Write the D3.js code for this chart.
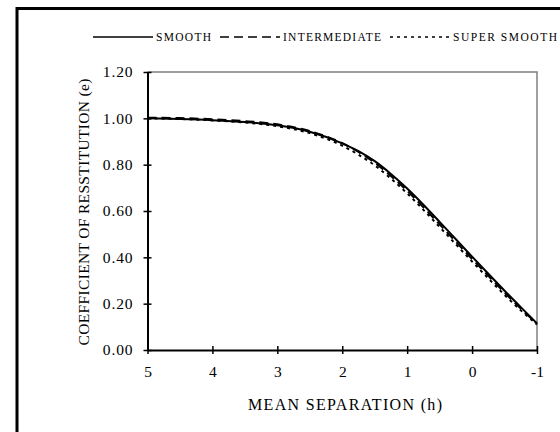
<!DOCTYPE html>
<html><head><meta charset="utf-8">
<script src="https://cdn.jsdelivr.net/npm/d3@7"></script>
<style>
html,body{margin:0;padding:0;background:#fff;}
svg{display:block;}
text{font-family:"Liberation Serif","Times New Roman",serif;fill:#000;}
</style></head>
<body><svg id="c" width="560" height="432"></svg>
<script>
const separation = [5, 4.5, 4, 3.5, 3, 2.5, 2, 1.75, 1.5, 1.25, 1, 0.75, 0.5, 0.25, 0, -0.25, -0.5, -0.75, -1];
const smooth       = [1.000, 0.997, 0.992, 0.984, 0.970, 0.942, 0.892, 0.858, 0.815, 0.760, 0.697, 0.627, 0.553, 0.478, 0.403, 0.329, 0.256, 0.185, 0.115];
const intermediate = [1.003, 1.001, 0.996, 0.988, 0.974, 0.945, 0.893, 0.855, 0.808, 0.751, 0.687, 0.616, 0.542, 0.467, 0.393, 0.320, 0.248, 0.179, 0.113];
const superSmooth  = [1.000, 0.997, 0.991, 0.982, 0.966, 0.936, 0.882, 0.843, 0.797, 0.740, 0.676, 0.605, 0.531, 0.456, 0.382, 0.309, 0.238, 0.171, 0.110];
const seriesNames = ["SMOOTH", "INTERMEDIATE", "SUPER SMOOTH"];
const xTicks = [5, 4, 3, 2, 1, 0, -1];
const yTicks = [0, 0.2, 0.4, 0.6, 0.8, 1.0, 1.2];
const xTitle = "MEAN SEPARATION (h)";
const yTitle = "COEFFICIENT OF RESSTITUTION (e)";

const svg = d3.select("#c");
// outer frame
svg.append("rect").attr("x", 17).attr("y", 8.5).attr("width", 600).attr("height", 500)
  .attr("fill", "none").attr("stroke", "#000").attr("stroke-width", 3);

const L = 147.5, R = 537, T = 72, B = 350;
const x = d3.scaleLinear().domain([5, -1]).range([L, R]);
const y = d3.scaleLinear().domain([0, 1.2]).range([B, T]);

// plot area border (gray top & right)
svg.append("path").attr("d", `M${L},${T}H${R}V${B}`).attr("fill", "none")
  .attr("stroke", "#808080").attr("stroke-width", 1.5);

// y axis
const yAxis = svg.append("g").attr("transform", `translate(${L},0)`)
  .call(d3.axisLeft(y).tickValues(yTicks).tickFormat(d3.format(".2f")).tickSize(0).tickPadding(14));
yAxis.select(".domain").attr("stroke", "#000").attr("stroke-width", 2);
yAxis.selectAll(".tick line").attr("x1", -4).attr("x2", 4).attr("stroke", "#000").attr("stroke-width", 1.5);
yAxis.selectAll(".tick text").attr("font-size", 15.5).attr("letter-spacing", 0.9);

// x axis
const xAxis = svg.append("g").attr("transform", `translate(0,${B})`)
  .call(d3.axisBottom(x).tickValues(xTicks).tickFormat(d => String(d)).tickSize(0).tickPadding(16));
xAxis.select(".domain").attr("stroke", "#000").attr("stroke-width", 2);
xAxis.selectAll(".tick line").attr("y1", -4).attr("y2", 4).attr("stroke", "#000").attr("stroke-width", 1.5);
xAxis.selectAll(".tick text").attr("font-size", 15.5);

// titles
svg.append("text").attr("x", 345).attr("y", 410).attr("text-anchor", "middle")
  .attr("font-size", 16).attr("textLength", 194).attr("lengthAdjust", "spacing").text(xTitle);
svg.append("text").attr("transform", "translate(89,212) rotate(-90)").attr("text-anchor", "middle")
  .attr("font-size", 15.5).attr("textLength", 267).attr("lengthAdjust", "spacing").text(yTitle);

// lines
const series = [
  {name: seriesNames[0], vals: smooth, dash: null, w: 2},
  {name: seriesNames[1], vals: intermediate, dash: "9,5", w: 2},
  {name: seriesNames[2], vals: superSmooth, dash: "3,4", w: 2}
];
const line = d3.line().x(d => x(d[0])).y(d => y(d[1])).curve(d3.curveMonotoneX);
series.forEach(s => {
  svg.append("path").datum(separation.map((h, i) => [h, s.vals[i]]))
    .attr("d", line).attr("fill", "none").attr("stroke", "#000")
    .attr("stroke-width", s.w).attr("stroke-dasharray", s.dash);
});

// legend
const legX = [93, 220, 390], legW = 60, legY = 37, legTextW = [55, 98, 104];
series.forEach((s, i) => {
  svg.append("line").attr("x1", legX[i]).attr("x2", legX[i] + legW).attr("y1", legY).attr("y2", legY)
    .attr("stroke", "#000").attr("stroke-width", 1.5).attr("stroke-dasharray", s.dash);
  svg.append("text").attr("x", legX[i] + legW + 3).attr("y", legY + 4)
    .attr("font-size", 11.5).attr("textLength", legTextW[i]).attr("lengthAdjust", "spacing").text(s.name);
});
</script></body></html>
